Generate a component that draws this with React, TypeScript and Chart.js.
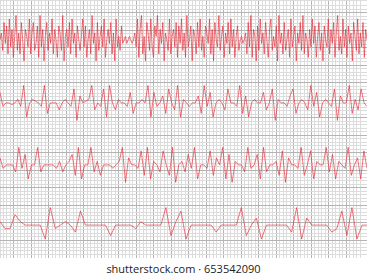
import React, { useEffect, useRef } from "react";
import { Chart, registerables } from "chart.js";

Chart.register(...registerables);

// Signal amplitudes (mm, positive = up) for the four ECG-like strips
const trace1: number[] = [0,2,-3,5,-1,4,-4,6,-2,3,-5,1,7,-3,2,-4,5,0,-6,3,1,-2,6,-4,2,5,-3,-1,4,-5,7,-2,3,-6,1,5,-3,2,-1,6,-4,3,0,-5,4,2,-3,7,-6,1,3,-2,5,-4,6,-1,2,-5,4,0,-3,1,6,-2,4,-5,0,3,-4,7,-1,2,-6,5,-3,1,4,-2,6,-5,0,3,-1,5,-4,2,-6,6,-2,1,-3,4,-1,0,1,-1,0,1,0,-1,0,2,-2,6,-5,3,7,-4,1,-6,5,2,-3,6,-2,-5,4,1,7,-4,3,-1,5,-6,2,0,-3,6,-4,1,3,-2,5,-5,4,-1,6,-3,2,-5,7,-2,0,4,-6,3,1,-4,5,-2,6,-3,1,-5,4,2,-1,6,-4,3,-6,5,0,-2,7,-3,1,4,-5,2,-1,5,-4,6,-2,3,-5,1,4,-3,0,1,-1,0,2,-4,5,-2,7,-5,3,1,-6,4,-3,6,-1,2,-4,5,0,-5,3,6,-3,1,-2,4,-6,7,-1,2,-4,5,-3,0,3,-5,6,-2,1,4,-6,2,-1,5,-3,7,-4,2,0,-5,3,-2,6,-1,4,-5,1,5,-3,2,-6,4,0,-2,6,-4,3,-1,5,-5,2,7,-3,1,-4,6,-2,3,-5,4,-1,2,-6,5,1,-3,6,-4,2,-2,5,-5,3,0];
const trace2: number[] = [3,-1,0,0,-0.5,0,1,-1,5,-4,0,1,0.5,0,-1,5,-3,0,0,0,-2,0,1,0,-1,4,-5,2,0,0.5,1,5,-2,0,-1,4,-4,5,0,-2,1,0,0,-1,3,-3,0,0,1,0,5,-4,3,-1,0,2,-3,4,0,-2,5,-4,1,0,-1,0,0,2,-3,5,-1,3,-4,0,1,0,-2,4,0,0,-1,5,-3,2,-4,0,1,0,0,3,-2,0,4,-5,1,0,0,-1,2,4,-3,0,1,0,-2,5,-1,3,-4,0,1,0,-1,4,-5,2,0,0,5,-3,1,-2,4,0,-1];
const trace3: number[] = [2,-1,0,0,0,-2,5,-1,3,-4,0,0,5,-2,0,0,0,0,-1,1,-2,0,1,3,-3,5,-4,0,0,5,-2,1,-3,0,0,0,-1,0,1,5,-5,2,0,0,-1,4,-3,5,-4,1,0,-2,4,0,-3,5,-5,0,1,-2,3,-1,5,-4,0,0,-1,4,-3,2,0,5,-4,3,-5,1,0,0,-2,5,-1,0,3,-4,5,-2,0,0,1,-3,4,-5,2,0,0,-1,5,-3,0,4,-4,1,0,0,5,-2,3,-4,1,0,-1,5,-3,0,2,-4,4,-1];
const trace4: number[] = [1,-1,-1,3,1,0,0,0,0,-4,5,-1,0,1,0,-2,4,0,0,0,0,0,-3,0,0,0,0,-1,1,0,0,0,0,5,-3,1,4,-4,0,0,0,0,0,-2,0,0,0,0,5,-3,0,2,-4,0,0,0,0,0,-2,5,-4,2,0,0,0,0,-2,-1,4,-3,5,-4,0,0];

// Baseline (mm from bottom) for each strip
const baselines: number[] = [62.3, 44.3, 26.6, 9.4];
const traces: number[][] = [trace1, trace2, trace3, trace4];

const X_MIN = -4;
const X_MAX = 100.86;
const Y_MAX = 73.7;

export default function App() {
  const ref = useRef<HTMLCanvasElement | null>(null);

  useEffect(() => {
    if (!ref.current) return;
    const datasets = traces.map((vals, k) => ({
      data: vals.map((v, i) => ({
        x: X_MIN + (i * (X_MAX - X_MIN)) / (vals.length - 1),
        y: baselines[k] + v,
      })),
      borderColor: "rgba(228, 40, 52, 0.8)",
      borderWidth: 0.8,
      pointRadius: 0,
      tension: 0,
      fill: false,
    }));
    const gridColor = (ctx: any) =>
      Math.round(ctx.tick.value) % 5 === 0 ? "#b4b4b4" : "#dcdcdc";
    const chart = new Chart(ref.current, {
      type: "line",
      data: { datasets },
      options: {
        animation: false,
        responsive: false,
        devicePixelRatio: 1,
        layout: { padding: 0 },
        plugins: { legend: { display: false }, tooltip: { enabled: false } },
        scales: {
          x: {
            type: "linear",
            min: X_MIN,
            max: X_MAX,
            ticks: { display: false, stepSize: 1, autoSkip: false, maxTicksLimit: 1000 },
            grid: { color: gridColor, lineWidth: 1, drawTicks: false },
            border: { display: false },
          },
          y: {
            type: "linear",
            min: 0,
            max: Y_MAX,
            ticks: { display: false, stepSize: 1, autoSkip: false, maxTicksLimit: 1000 },
            grid: { color: gridColor, lineWidth: 1, drawTicks: false },
            border: { display: false },
          },
        },
      },
    });
    return () => chart.destroy();
  }, []);

  return (
    <div
      style={{
        position: "fixed",
        left: 0,
        top: 0,
        width: 367,
        height: 280,
        background: "#fff",
      }}
    >
      <canvas ref={ref} width={367} height={258} style={{ display: "block" }} />
      <div
        style={{
          position: "absolute",
          left: 0,
          top: 261,
          width: 367,
          textAlign: "center",
          fontFamily: "'Open Sans', sans-serif",
          fontSize: 11,
          color: "#222",
          lineHeight: "15px",
        }}
      >
        shutterstock.com · 653542090
      </div>
    </div>
  );
}
